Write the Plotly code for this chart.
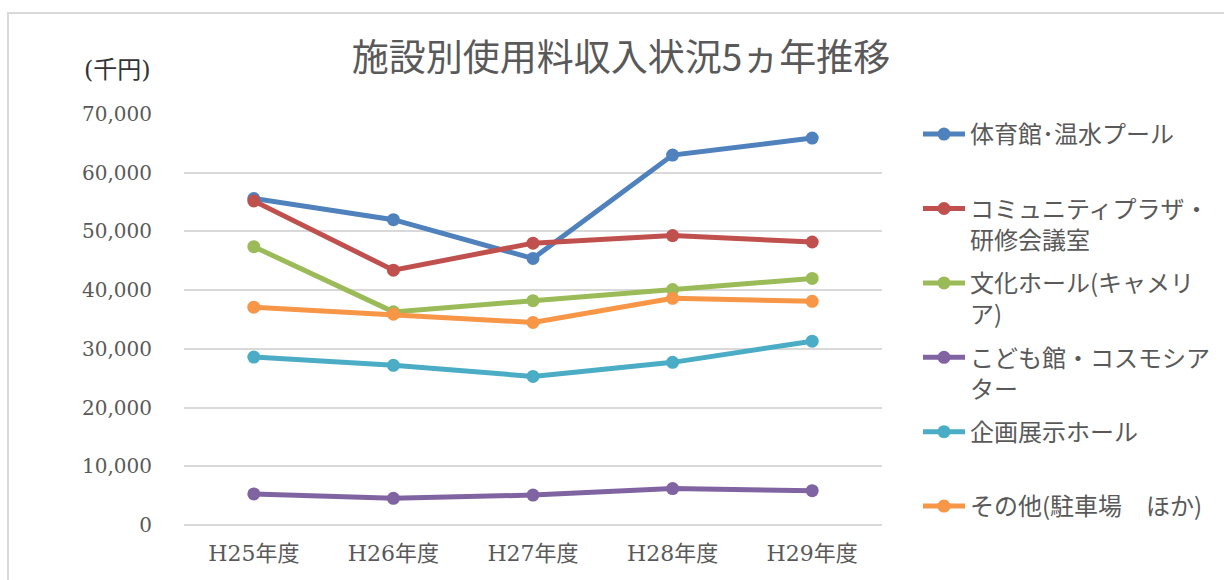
import plotly.graph_objects as go

categories = ["H25年度", "H26年度", "H27年度", "H28年度", "H29年度"]

series_names = [
    "体育館･温水プール",
    "コミュニティプラザ・<br>研修会議室",
    "文化ホール(キャメリ<br>ア)",
    "こども館・コスモシア<br>ター",
    "企画展示ホール",
    "その他(駐車場　ほか)",
]
gym_pool = [55600, 52000, 45400, 63000, 65900]
community_plaza = [55200, 43400, 48000, 49300, 48200]
culture_hall = [47400, 36300, 38200, 40100, 42000]
kodomo_kan = [5300, 4550, 5100, 6200, 5850]
exhibition_hall = [28600, 27200, 25300, 27700, 31300]
others = [37100, 35900, 34500, 38600, 38100]

series_values = [gym_pool, community_plaza, culture_hall, kodomo_kan, exhibition_hall, others]
colors = ["#4F81BD", "#C0504D", "#9BBB59", "#8064A2", "#4BACC6", "#F79646"]

y_tickvals = [0, 10000, 20000, 30000, 40000, 50000, 60000, 70000]
y_ticktext = ["0", "10,000", "20,000", "30,000", "40,000", "50,000", "60,000", "70,000"]

SERIF = "'DejaVu Serif', 'Noto Sans CJK JP', serif"
TEXT = "#595959"

fig = go.Figure()
for i, (name, vals, col) in enumerate(zip(series_names, series_values, colors)):
    label = name if "<br>" in name else name + "<br>\u00a0"
    fig.add_trace(go.Scatter(
        x=categories, y=vals, name=label, mode="lines+markers",
        line=dict(color=col, width=5),
        marker=dict(color=col, size=13),
        legendgroup=str(i),
    ))

L, R, T, B = 184, 342, 114, 55
W, H = 1224, 580
pw, ph = W - L - R, H - T - B

fig.update_layout(
    width=W, height=H,
    margin=dict(l=L, r=R, t=T, b=B, autoexpand=False),
    paper_bgcolor="white", plot_bgcolor="white",
    title=dict(text="施設別使用料収入状況5ヵ年推移", x=621 / W, xanchor="center",
               y=1 - 58 / H, yanchor="middle",
               font=dict(family="'Noto Sans CJK JP', sans-serif", size=37, color=TEXT)),
    showlegend=True,
    legend=dict(x=(918 - L) / pw, xanchor="left", y=(H - B - 112) / ph, yanchor="top",
                font=dict(family="'Noto Sans CJK JP', serif", size=24, color=TEXT),
                valign="top", tracegroupgap=9, bgcolor="rgba(0,0,0,0)",
                itemwidth=42, maxheight=600),
    xaxis=dict(showgrid=False, showline=False, zeroline=False, range=[-0.5, 4.5],
               ticks="outside", ticklen=9, tickcolor="rgba(0,0,0,0)",
               tickfont=dict(family=SERIF, size=22, color=TEXT)),
    yaxis=dict(range=[0, 70000], tickvals=y_tickvals, ticktext=y_ticktext,
               showgrid=True, gridcolor="#D9D9D9", gridwidth=2,
               zeroline=True, zerolinecolor="#D9D9D9", zerolinewidth=2,
               showline=False, ticks="outside", ticklen=27, tickcolor="rgba(0,0,0,0)",
               tickfont=dict(family=SERIF, size=20, color=TEXT)),
    annotations=[dict(text="(千円)", xref="paper", yref="paper",
                      x=(117 - L) / pw, y=(H - B - 70) / ph, xanchor="center", yanchor="middle",
                      showarrow=False,
                      font=dict(family=SERIF, size=24, color="#333333"))],
    shapes=[dict(type="rect", xref="paper", yref="paper",
                 x0=(8 - L) / pw, x1=(1240 - L) / pw,
                 y0=(H - B - 600) / ph, y1=(H - B - 13) / ph,
                 line=dict(color="#D9D9D9", width=2), fillcolor="rgba(0,0,0,0)", layer="below")],
)

fig.write_html("out.html", config={"displayModeBar": False},
               post_script="document.body.style.margin='0';")
